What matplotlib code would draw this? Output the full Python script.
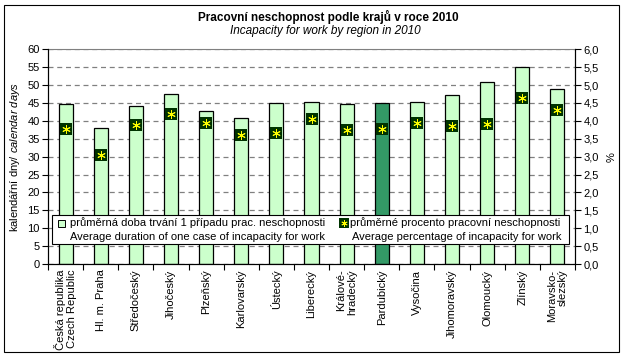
import matplotlib
matplotlib.use("Agg")
import matplotlib.pyplot as plt
from matplotlib.patches import Rectangle
from matplotlib.lines import Line2D
import numpy as np

plt.rcParams['font.family'] = ['Liberation Sans', 'DejaVu Sans']
plt.rcParams['mathtext.fontset'] = 'custom'
plt.rcParams['mathtext.it'] = 'Liberation Sans:italic'
plt.rcParams['mathtext.rm'] = 'Liberation Sans'

regions = ["Česká republika\nCzech Republic", "Hl. m. Praha", "Středočeský", "Jihočeský",
           "Plzeňský", "Karlovarský", "Ústecký", "Liberecký", "Králové-\nhradecký",
           "Pardubický", "Vysočina", "Jihomoravský", "Olomoucký", "Zlínský",
           "Moravsko-\nslezský"]
duration_days = [44.7, 38.0, 44.1, 47.4, 42.8, 40.7, 44.9, 45.4, 44.6, 44.9, 45.3, 47.2, 50.8, 55.0, 48.8]
percent_incapacity = [3.77, 3.04, 3.88, 4.20, 3.95, 3.60, 3.67, 4.05, 3.74, 3.77, 3.93, 3.86, 3.90, 4.63, 4.29]
highlight = "Pardubický"

W, H = 624, 356
fig = plt.figure(figsize=(W / 100, H / 100), dpi=100)
fig.patch.set_facecolor('white')
fig.patches.append(Rectangle((4 / W, 4 / H), 615 / W, 347 / H, transform=fig.transFigure,
                             fill=False, edgecolor='black', linewidth=0.8))

ax = fig.add_axes([48 / W, 1 - 264 / H, (575 - 48) / W, (264 - 49.3) / H])
x = np.arange(len(regions))
colors = ['#339966' if r == highlight else '#ccffcc' for r in regions]
ax.bar(x, duration_days, width=0.4, color=colors, edgecolor='black', linewidth=0.9, zorder=2)
ax.set_xlim(-0.5, len(regions) - 0.5)
ax.set_ylim(0, 60)
ax.set_yticks(np.arange(0, 61, 5))
ax.set_yticklabels([str(v) for v in range(0, 61, 5)], fontsize=8)
ax.yaxis.grid(True, linestyle=(0, (4, 3)), color='#808080', linewidth=0.9, zorder=0)
ax.set_axisbelow(True)
ax.set_xticks(x)
ax.set_xticklabels(regions, rotation=90, fontsize=8, va='top', ha='center', multialignment='right')
ax.set_xticks(np.arange(-0.5, len(regions), 1), minor=True)
ax.tick_params(axis='x', which='major', length=0, pad=4)
ax.tick_params(axis='x', which='minor', length=4, width=0.8, direction='out')
ax.tick_params(axis='y', length=4, width=0.8, direction='out', pad=2)
ax.spines['top'].set_color('#808080')
for s in ['left', 'bottom', 'right']:
    ax.spines[s].set_color('black')
ax.set_ylabel(r"kalendářní dny/ $\it{calendar\ days}$", fontsize=8, labelpad=4)

ax2 = ax.twinx()
ax2.set_ylim(0, 6)
ax2.set_yticks(np.arange(0, 6.01, 0.5))
ax2.set_yticklabels([f"{v:.1f}".replace('.', ',') for v in np.arange(0, 6.01, 0.5)], fontsize=8)
ax2.tick_params(axis='y', length=4, width=0.8, direction='out', pad=2)
ax2.spines['top'].set_visible(False)
ax2.set_ylabel("%", fontsize=8, labelpad=6)
ax2.scatter(x, percent_incapacity, marker='s', s=78, color='#003300', zorder=5, linewidths=0)
ax2.scatter(x, percent_incapacity, marker=(6, 2, 0), s=30, color='#ffff00', zorder=6, linewidths=0.7)

fig.text(328 / W, 1 - 17 / H, "Pracovní neschopnost podle krajů v roce 2010", ha='center', va='center',
         fontsize=8.5, fontweight='bold')
fig.text(325 / W, 1 - 31 / H, "Incapacity for work by region in 2010", ha='center', va='center',
         fontsize=8.5, style='italic')

# legend box
fig.patches.append(Rectangle((52 / W, 1 - 244 / H), (569 - 52) / W, (244 - 215) / H,
                             transform=fig.transFigure, facecolor='white', edgecolor='black',
                             linewidth=0.8, zorder=5))
fig.patches.append(Rectangle((58 / W, 1 - 226.5 / H), 7 / W, 7 / H, transform=fig.transFigure,
                             facecolor='#ccffcc', edgecolor='black', linewidth=0.7, zorder=6))
fig.lines.append(Line2D([343.5 / W], [1 - 223 / H], transform=fig.transFigure, marker='s',
                        markersize=6.5, color='#003300', markeredgewidth=0, zorder=6))
fig.lines.append(Line2D([343.5 / W], [1 - 223 / H], transform=fig.transFigure, marker=(6, 2, 0),
                        markersize=4.5, color='#ffff00', markeredgewidth=0.6, zorder=7))
fig.text(70 / W, 1 - 223 / H, "průměrná doba trvání 1 případu prac. neschopnosti", fontsize=8,
         va='center', ha='left', zorder=8)
fig.text(70 / W, 1 - 237 / H, "Average duration of one case of incapacity for work", fontsize=8,
         va='center', ha='left', zorder=8)
fig.text(350 / W, 1 - 223 / H, "průměrné procento pracovní neschopnosti", fontsize=8,
         va='center', ha='left', zorder=8)
fig.text(352 / W, 1 - 237 / H, "Average percentage of incapacity for work", fontsize=8,
         va='center', ha='left', zorder=8)

fig.savefig("out.png", dpi=100)
